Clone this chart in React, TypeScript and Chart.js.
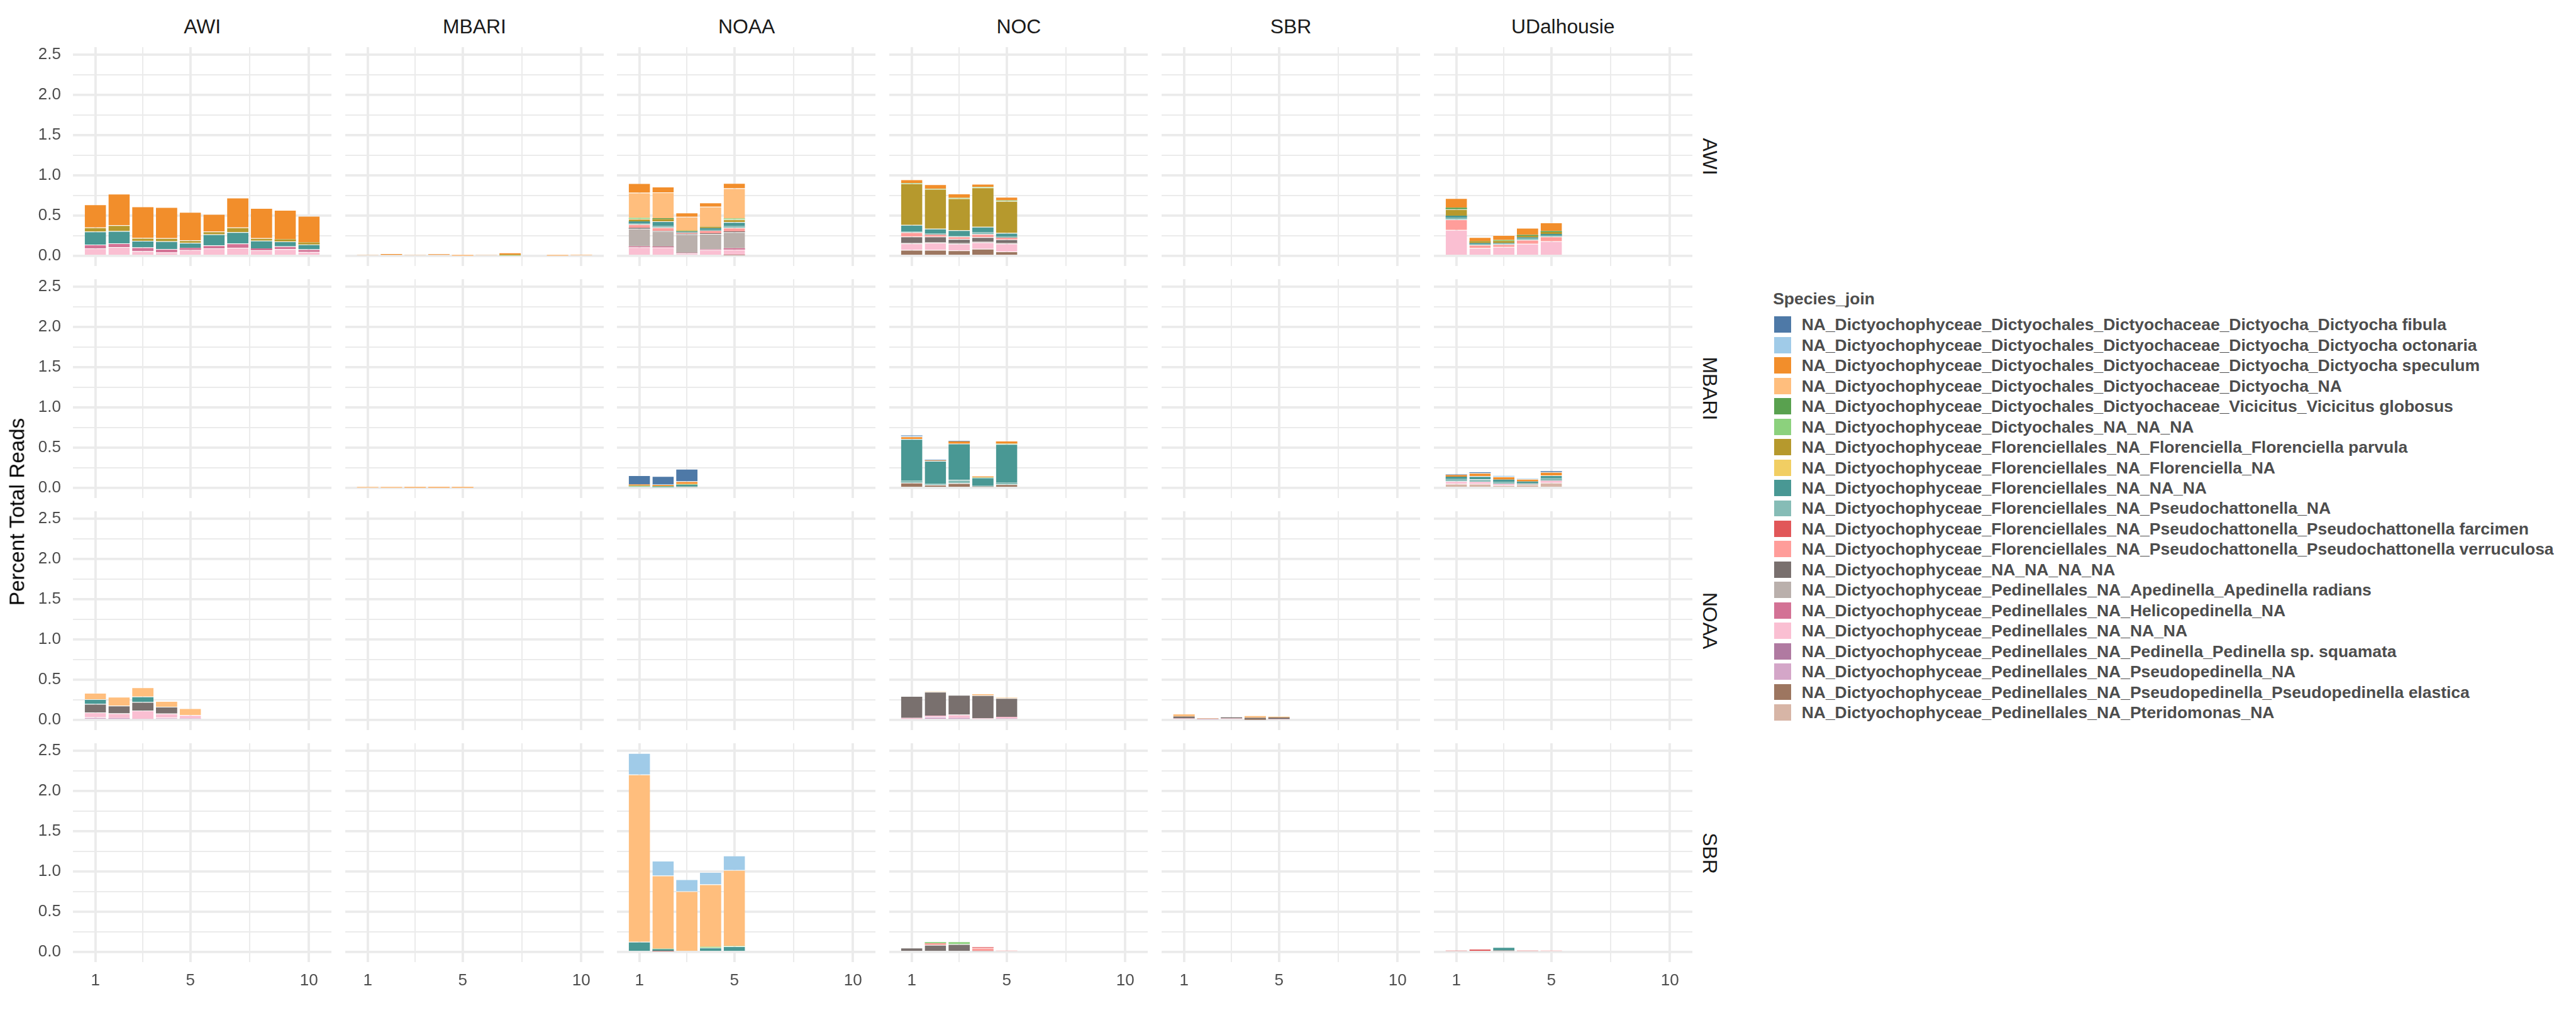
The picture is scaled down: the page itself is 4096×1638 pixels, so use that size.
import React, { useEffect, useRef } from 'react';
import { Chart, registerables } from 'chart.js';

Chart.register(...registerables);

const S = 0.91;
const FONT = "'Liberation Sans', Arial, Helvetica, sans-serif";

const COL_LABELS = ['AWI', 'MBARI', 'NOAA', 'NOC', 'SBR', 'UDalhousie'];
const ROW_LABELS = ['AWI', 'MBARI', 'NOAA', 'SBR'];
const Y_AXIS_TITLE = 'Percent Total Reads';
const LEGEND_TITLE = 'Species_join';

const SPECIES = [
  'NA_Dictyochophyceae_Dictyochales_Dictyochaceae_Dictyocha_Dictyocha fibula',
  'NA_Dictyochophyceae_Dictyochales_Dictyochaceae_Dictyocha_Dictyocha octonaria',
  'NA_Dictyochophyceae_Dictyochales_Dictyochaceae_Dictyocha_Dictyocha speculum',
  'NA_Dictyochophyceae_Dictyochales_Dictyochaceae_Dictyocha_NA',
  'NA_Dictyochophyceae_Dictyochales_Dictyochaceae_Vicicitus_Vicicitus globosus',
  'NA_Dictyochophyceae_Dictyochales_NA_NA_NA',
  'NA_Dictyochophyceae_Florenciellales_NA_Florenciella_Florenciella parvula',
  'NA_Dictyochophyceae_Florenciellales_NA_Florenciella_NA',
  'NA_Dictyochophyceae_Florenciellales_NA_NA_NA',
  'NA_Dictyochophyceae_Florenciellales_NA_Pseudochattonella_NA',
  'NA_Dictyochophyceae_Florenciellales_NA_Pseudochattonella_Pseudochattonella farcimen',
  'NA_Dictyochophyceae_Florenciellales_NA_Pseudochattonella_Pseudochattonella verruculosa',
  'NA_Dictyochophyceae_NA_NA_NA_NA',
  'NA_Dictyochophyceae_Pedinellales_NA_Apedinella_Apedinella radians',
  'NA_Dictyochophyceae_Pedinellales_NA_Helicopedinella_NA',
  'NA_Dictyochophyceae_Pedinellales_NA_NA_NA',
  'NA_Dictyochophyceae_Pedinellales_NA_Pedinella_Pedinella sp. squamata',
  'NA_Dictyochophyceae_Pedinellales_NA_Pseudopedinella_NA',
  'NA_Dictyochophyceae_Pedinellales_NA_Pseudopedinella_Pseudopedinella elastica',
  'NA_Dictyochophyceae_Pedinellales_NA_Pteridomonas_NA',
];

const COLORS = [
  '#4E79A7', '#A0CBE8', '#F28E2B', '#FFBE7D', '#59A14F', '#8CD17D', '#B6992D',
  '#F1CE63', '#499894', '#86BCB6', '#E15759', '#FF9D9A', '#79706E', '#BAB0AC',
  '#D37295', '#FABFD2', '#B07AA1', '#D4A6C8', '#9D7660', '#D7B5A6',
];

// species indices (legend order)
const FIB = 0, OCT = 1, SPEC = 2, DNA = 3, VIC = 4, DNANA = 5, FPAR = 6, FNA = 7,
  FLNA = 8, PSNA = 9, PFAR = 10, PVER = 11, NANA = 12, APED = 13, HELI = 14,
  PNANA = 15, PSQ = 16, PPNA = 17, PEL = 18, PTER = 19;

type Rows = Array<[number, number[]]>;

// ---- values per panel: [species, values for sample 1..n] ----
const AWI_AWI: Rows = [
  [PNANA, [0.095, 0.111, 0.059, 0.045, 0.076, 0.095, 0.102, 0.071, 0.085, 0.050]],
  [HELI, [0.047, 0.047, 0.047, 0.043, 0.024, 0.038, 0.054, 0.024, 0.035, 0.033]],
  [FLNA, [0.161, 0.151, 0.083, 0.095, 0.064, 0.135, 0.139, 0.095, 0.061, 0.061]],
  [FPAR, [0.052, 0.073, 0.035, 0.038, 0.031, 0.035, 0.059, 0.031, 0.028, 0.026]],
  [SPEC, [0.284, 0.390, 0.390, 0.385, 0.350, 0.217, 0.369, 0.374, 0.362, 0.326]],
];
const AWI_MBARI: Rows = [
  [DNANA, [0, 0, 0, 0, 0, 0, 0.008, 0, 0, 0]],
  [DNA, [0, 0, 0, 0, 0.004, 0, 0, 0, 0.006, 0.009]],
  [SPEC, [0.013, 0.025, 0.017, 0.022, 0.002, 0.017, 0.026, 0.015, 0.002, 0.003]],
];
const AWI_NOAA: Rows = [
  [PEL, [0, 0, 0, 0, 0.009]],
  [PNANA, [0.109, 0.106, 0.033, 0.076, 0.071]],
  [HELI, [0.012, 0.012, 0.005, 0.007, 0.017]],
  [APED, [0.217, 0.191, 0.232, 0.191, 0.199]],
  [NANA, [0.012, 0.005, 0.007, 0.009, 0.009]],
  [PVER, [0.043, 0.040, 0.012, 0.028, 0.045]],
  [PSNA, [0.010, 0.020, 0.007, 0.012, 0.020]],
  [FLNA, [0.028, 0.056, 0.012, 0.023, 0.051]],
  [FNA, [0, 0, 0.008, 0, 0]],
  [FPAR, [0.031, 0.028, 0.006, 0.019, 0.033]],
  [DNANA, [0.012, 0, 0, 0, 0.012]],
  [VIC, [0, 0.012, 0, 0, 0]],
  [DNA, [0.312, 0.319, 0.165, 0.246, 0.374]],
  [SPEC, [0.116, 0.071, 0.050, 0.052, 0.064]],
];
const AWI_NOC: Rows = [
  [PEL, [0.076, 0.076, 0.069, 0.090, 0.057]],
  [PNANA, [0.080, 0.087, 0.083, 0.080, 0.097]],
  [APED, [0.007, 0.009, 0.007, 0.009, 0.012]],
  [NANA, [0.078, 0.069, 0.052, 0.054, 0.040]],
  [PVER, [0.052, 0.024, 0.031, 0.040, 0.021]],
  [PSNA, [0.010, 0.014, 0.009, 0.021, 0.014]],
  [FLNA, [0.083, 0.059, 0.069, 0.069, 0.045]],
  [FPAR, [0.515, 0.494, 0.395, 0.487, 0.397]],
  [DNANA, [0.006, 0.005, 0.007, 0.005, 0.007]],
  [SPEC, [0.043, 0.052, 0.052, 0.040, 0.043]],
];
const AWI_UDAL: Rows = [
  [PNANA, [0.324, 0.099, 0.113, 0.151, 0.182]],
  [PVER, [0.130, 0.038, 0.033, 0.050, 0.059]],
  [PSNA, [0.019, 0.007, 0.007, 0.014, 0.012]],
  [FLNA, [0.028, 0.017, 0.009, 0.017, 0.021]],
  [FPAR, [0.080, 0.026, 0.024, 0.019, 0.024]],
  [DNANA, [0, 0, 0.012, 0, 0]],
  [VIC, [0.019, 0, 0, 0.012, 0.012]],
  [SPEC, [0.118, 0.047, 0.061, 0.085, 0.104]],
];
const MBARI_MBARI: Rows = [
  [DNA, [0.006, 0.003, 0.006, 0.006, 0.005]],
  [SPEC, [0, 0, 0.008, 0.009, 0.008]],
];
const MBARI_NOAA: Rows = [
  [PTER, [0, 0, 0.012]],
  [PSNA, [0.019, 0.009, 0.012]],
  [FLNA, [0, 0.009, 0.017]],
  [DNANA, [0.009, 0.007, 0.005]],
  [SPEC, [0.017, 0.014, 0.033]],
  [DNA, [0, 0, 0.005]],
  [OCT, [0, 0.007, 0]],
  [FIB, [0.113, 0.102, 0.154]],
];
const MBARI_NOC: Rows = [
  [PEL, [0.066, 0.040, 0.059, 0.019, 0.047]],
  [PSNA, [0.028, 0.014, 0.043, 0.007, 0.019]],
  [FLNA, [0.513, 0.282, 0.449, 0.104, 0.480]],
  [DNANA, [0, 0, 0, 0.005, 0.003]],
  [SPEC, [0.033, 0.007, 0.028, 0.009, 0.024]],
  [DNA, [0, 0, 0, 0, 0.005]],
  [OCT, [0.005, 0, 0, 0, 0]],
  [FIB, [0.007, 0.007, 0.005, 0, 0]],
];
const MBARI_UDAL: Rows = [
  [PTER, [0.052, 0.052, 0.035, 0.043, 0.066]],
  [PNANA, [0.033, 0.024, 0.017, 0, 0.026]],
  [APED, [0, 0, 0, 0.009, 0]],
  [PSNA, [0.028, 0.033, 0.026, 0.012, 0.028]],
  [FLNA, [0.028, 0.038, 0.026, 0.017, 0.038]],
  [SPEC, [0.021, 0.040, 0.038, 0.031, 0.040]],
  [OCT, [0, 0, 0.010, 0.007, 0]],
  [FIB, [0.007, 0.009, 0, 0, 0.012]],
];
const NOAA_AWI: Rows = [
  [PPNA, [0.035, 0.026, 0.017, 0.031, 0.021]],
  [PNANA, [0.061, 0.057, 0.102, 0.050, 0.040]],
  [NANA, [0.104, 0.095, 0.104, 0.085, 0]],
  [FLNA, [0.059, 0, 0.069, 0, 0]],
  [DNA, [0.078, 0.111, 0.113, 0.069, 0.085]],
];
const NOAA_NOC: Rows = [
  [PPNA, [0, 0.040, 0.028, 0, 0.021]],
  [PNANA, [0.026, 0.017, 0.040, 0.021, 0.019]],
  [NANA, [0.272, 0.293, 0.243, 0.286, 0.232]],
  [DNA, [0, 0.005, 0, 0.014, 0.007]],
];
const NOAA_SBR: Rows = [
  [PEL, [0, 0, 0, 0.005, 0]],
  [PPNA, [0, 0.009, 0, 0, 0]],
  [PNANA, [0.021, 0, 0.021, 0, 0.012]],
  [APED, [0, 0.009, 0, 0, 0]],
  [NANA, [0.024, 0, 0.014, 0.024, 0.021]],
  [DNA, [0.026, 0.007, 0, 0.021, 0.009]],
];
const SBR_NOAA: Rows = [
  [PFAR, [0, 0.009, 0, 0, 0]],
  [FLNA, [0.128, 0.028, 0, 0.057, 0.071]],
  [DNANA, [0, 0.005, 0, 0.009, 0.005]],
  [DNA, [2.076, 0.908, 0.754, 0.775, 0.941]],
  [OCT, [0.265, 0.182, 0.149, 0.151, 0.180]],
];
const SBR_NOC: Rows = [
  [NANA, [0.054, 0.090, 0.099, 0.014, 0]],
  [PVER, [0, 0.021, 0, 0.038, 0.019]],
  [PFAR, [0, 0, 0, 0.009, 0]],
  [DNANA, [0, 0.014, 0.033, 0, 0]],
];
const SBR_UDAL: Rows = [
  [NANA, [0, 0, 0.021, 0, 0]],
  [PVER, [0, 0, 0, 0, 0.019]],
  [PFAR, [0.019, 0.040, 0, 0.019, 0]],
  [FLNA, [0, 0, 0.040, 0, 0]],
];

// ---- axes ----
const Y_MIN = -0.1234;
const Y_MAX = 2.5914;
const X_MIN = 0.055;
const X_MAX = 10.945;
const Y_GRID = [0, 0.25, 0.5, 0.75, 1, 1.25, 1.5, 1.75, 2, 2.25, 2.5];
const Y_LABELED = [0, 0.5, 1, 1.5, 2, 2.5];
const X_GRID = [1, 3, 5, 7.5, 10];
const X_LABELED = [1, 5, 10];

// ---- layout (reference px, scaled by S) ----
const PANEL_LEFT = 127.5;
const PANEL_W = 452;
const PANEL_STEP_X = 475.5;
const PANEL_TOP = 81.9;
const PANEL_H = 382.8;
const PANEL_STEP_Y = 405.8;

const GRID_COLOR = '#EBEBEB';
const MAJOR_W = 4.2 * S;
const MINOR_W = 2.1 * S;
const TICK_COLOR = '#4D4D4D';

const PANEL_DATA: Record<string, Rows> = {
  '0_0': AWI_AWI, '0_1': AWI_MBARI, '0_2': AWI_NOAA, '0_3': AWI_NOC, '0_5': AWI_UDAL,
  '1_1': MBARI_MBARI, '1_2': MBARI_NOAA, '1_3': MBARI_NOC, '1_5': MBARI_UDAL,
  '2_0': NOAA_AWI, '2_3': NOAA_NOC, '2_4': NOAA_SBR,
  '3_2': SBR_NOAA, '3_3': SBR_NOC, '3_5': SBR_UDAL,
};

const near = (list: number[], v: number) => list.some((x) => Math.abs(x - v) < 1e-9);

function Panel({ r, c }: { r: number; c: number }) {
  const ref = useRef<HTMLCanvasElement>(null);
  const showY = c === 0;
  const showX = r === ROW_LABELS.length - 1;
  const pLeft = Math.round((PANEL_LEFT + c * PANEL_STEP_X) * S);
  const pTop = Math.round((PANEL_TOP + r * PANEL_STEP_Y) * S);
  const pW = Math.round(PANEL_W * S);
  const pH = Math.round(PANEL_H * S);
  const yW = showY ? pLeft : 0;
  const xH = showX ? Math.round(64 * S) : 0;
  const cLeft = pLeft - yW;
  const cW = pW + yW;
  const cH = pH + xH;

  useEffect(() => {
    const rows = PANEL_DATA[`${r}_${c}`] || [];
    const datasets: any[] = [];
    for (let s = SPECIES.length - 1; s >= 0; s--) {
      const row = rows.find((d) => d[0] === s);
      if (!row) continue;
      const pts = row[1].map((v, i) => ({ x: i + 1, y: v })).filter((p) => p.y > 0);
      datasets.push({
        label: SPECIES[s],
        data: pts,
        backgroundColor: COLORS[s],
        borderColor: 'rgba(255,255,255,0.3)',
        borderWidth: (ctx: any) =>
          ctx.raw && ctx.raw.y >= 0.03 ? { top: 1, left: 0, right: 0, bottom: 0 } : 0,
        borderSkipped: false,
        categoryPercentage: 1,
        barPercentage: 0.9,
      });
    }
    const tickFont = { family: FONT, size: 26 };
    const chart = new Chart(ref.current as HTMLCanvasElement, {
      type: 'bar',
      data: { datasets },
      options: {
        responsive: false,
        maintainAspectRatio: false,
        animation: false,
        devicePixelRatio: 1,
        layout: { padding: 0 },
        plugins: { legend: { display: false }, tooltip: { enabled: false } },
        scales: {
          x: {
            type: 'linear',
            stacked: true,
            offset: false,
            min: X_MIN,
            max: X_MAX,
            afterBuildTicks: (sc: any) => { sc.ticks = X_GRID.map((v) => ({ value: v })); },
            afterFit: (sc: any) => {
              sc.height = xH;
              sc.paddingLeft = 0; sc.paddingRight = 0; sc.paddingTop = 0; sc.paddingBottom = 0;
            },
            grid: {
              offset: false,
              color: GRID_COLOR,
              drawTicks: false,
              lineWidth: (ctx: any) => (ctx.tick && near(X_LABELED, ctx.tick.value) ? MAJOR_W : MINOR_W),
            },
            border: { display: false },
            ticks: {
              display: showX,
              autoSkip: false,
              maxRotation: 0,
              minRotation: 0,
              padding: 14,
              color: TICK_COLOR,
              font: tickFont,
              callback: (v: any) => (near(X_LABELED, Number(v)) ? String(v) : ''),
            },
          },
          y: {
            type: 'linear',
            stacked: true,
            min: Y_MIN,
            max: Y_MAX,
            afterBuildTicks: (sc: any) => { sc.ticks = Y_GRID.map((v) => ({ value: v })); },
            afterFit: (sc: any) => {
              sc.width = yW;
              sc.paddingLeft = 0; sc.paddingRight = 0; sc.paddingTop = 0; sc.paddingBottom = 0;
            },
            grid: {
              color: GRID_COLOR,
              drawTicks: false,
              lineWidth: (ctx: any) => (ctx.tick && near(Y_LABELED, ctx.tick.value) ? MAJOR_W : MINOR_W),
            },
            border: { display: false },
            ticks: {
              display: showY,
              autoSkip: false,
              padding: Math.round(20.5 * S),
              color: TICK_COLOR,
              font: tickFont,
              callback: (v: any) => (near(Y_LABELED, Number(v)) ? Number(v).toFixed(1) : ''),
            },
          },
        },
      } as any,
    });
    return () => chart.destroy();
  }, []);

  return (
    <canvas
      ref={ref}
      width={cW}
      height={cH}
      style={{ position: 'absolute', left: cLeft, top: pTop, width: cW, height: cH }}
    />
  );
}

const textBase: React.CSSProperties = {
  position: 'absolute',
  whiteSpace: 'nowrap',
  lineHeight: 1,
  fontFamily: FONT,
};

export default function App() {
  useEffect(() => {
    document.body.style.margin = '0';
  }, []);

  const panels: JSX.Element[] = [];
  for (let r = 0; r < ROW_LABELS.length; r++) {
    for (let c = 0; c < COL_LABELS.length; c++) {
      panels.push(<Panel key={`${r}_${c}`} r={r} c={c} />);
    }
  }

  const stripSize = 35 * S;
  const legendFont = 29.1 * S;
  const legendY0 = 567.5;
  const legendStep = 35.66;

  return (
    <div
      style={{
        position: 'fixed', left: 0, top: 0, width: 4096, height: 1638,
        background: '#FFFFFF', overflow: 'hidden', fontFamily: FONT,
      }}
    >
      {panels}
      {COL_LABELS.map((lab, c) => (
        <div
          key={'ct' + c}
          style={{
            ...textBase,
            left: (PANEL_LEFT + c * PANEL_STEP_X + PANEL_W / 2) * S,
            top: 47.5 * S,
            fontSize: stripSize,
            color: '#1A1A1A',
            transform: 'translate(-50%, -50%)',
          }}
        >
          {lab}
        </div>
      ))}
      {ROW_LABELS.map((lab, r) => (
        <div
          key={'rt' + r}
          style={{
            ...textBase,
            left: 2987 * S,
            top: (PANEL_TOP + r * PANEL_STEP_Y + PANEL_H / 2) * S,
            fontSize: stripSize,
            color: '#1A1A1A',
            transform: 'translate(-50%, -50%) rotate(90deg)',
          }}
        >
          {lab}
        </div>
      ))}
      <div
        style={{
          ...textBase,
          left: 30 * S,
          top: 895 * S,
          fontSize: 36.5 * S,
          color: '#000000',
          transform: 'translate(-50%, -50%) rotate(-90deg)',
        }}
      >
        {Y_AXIS_TITLE}
      </div>
      <div
        style={{
          ...textBase,
          left: 3098 * S,
          top: 522.5 * S,
          fontSize: legendFont,
          fontWeight: 'bold',
          color: '#4D4D4D',
          transform: 'translateY(-50%)',
        }}
      >
        {LEGEND_TITLE}
      </div>
      {SPECIES.map((name, i) => {
        const cy = (legendY0 + i * legendStep) * S;
        return (
          <React.Fragment key={'lg' + i}>
            <div
              style={{
                position: 'absolute',
                left: 3100 * S,
                top: cy - 14.25 * S,
                width: 30 * S,
                height: 28.5 * S,
                background: COLORS[i],
              }}
            />
            <div
              style={{
                ...textBase,
                left: 3148 * S,
                top: cy,
                fontSize: legendFont,
                fontWeight: 'bold',
                color: '#4D4D4D',
                transform: 'translateY(-50%)',
              }}
            >
              {name}
            </div>
          </React.Fragment>
        );
      })}
    </div>
  );
}
